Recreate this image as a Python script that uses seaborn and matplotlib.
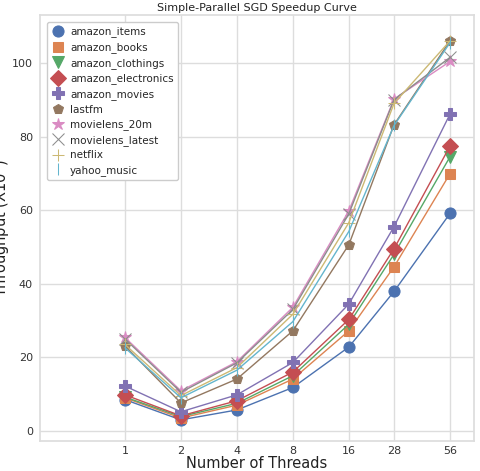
import numpy as np
import pandas as pd
import matplotlib
matplotlib.use('Agg')
import matplotlib.pyplot as plt
import seaborn as sns

threads = [1, 2, 4, 8, 16, 28, 56]
names = ['amazon_items', 'amazon_books', 'amazon_clothings', 'amazon_electronics',
         'amazon_movies', 'lastfm', 'movielens_20m', 'movielens_latest',
         'netflix', 'yahoo_music']

amazon_items = [8.5, 3.0, 5.7, 11.8, 22.8, 37.9, 59.1]
amazon_books = [9.0, 3.5, 7.0, 14.1, 27.2, 44.6, 69.9]
amazon_clothings = [9.2, 3.9, 7.5, 15.0, 29.0, 48.0, 74.5]
amazon_electronics = [9.8, 4.1, 8.2, 16.0, 30.3, 49.5, 77.4]
amazon_movies = [12.2, 5.2, 9.8, 18.6, 34.5, 55.5, 86.1]
lastfm = [23.1, 7.6, 14.1, 27.2, 50.6, 83.2, 106.0]
movielens_20m = [25.4, 10.9, 18.8, 33.6, 59.8, 90.2, 100.4]
movielens_latest = [25.0, 10.5, 18.5, 33.0, 59.0, 90.0, 101.5]
netflix = [23.5, 9.6, 17.2, 31.7, 56.6, 89.0, 106.0]
yahoo_music = [22.6, 9.0, 16.5, 29.7, 54.2, 83.0, 105.5]

series = [amazon_items, amazon_books, amazon_clothings, amazon_electronics,
          amazon_movies, lastfm, movielens_20m, movielens_latest, netflix, yahoo_music]

sns.set_theme(style='whitegrid', palette='deep')
plt.rcParams['axes.edgecolor'] = '#dddddd'
plt.rcParams['grid.color'] = '#dddddd'

markers = ['o', 's', 'v', 'D', 'P', 'p', '*', 'x', '+', '|']
msizes = [8, 7.5, 8, 8, 9, 7, 9, 8, 8, 8]
colors = sns.color_palette('deep', 10)

fig = plt.figure(figsize=(4.8, 4.71), dpi=100)
ax = fig.add_axes([0.083, 0.064, 0.905, 0.904])

for i, name in enumerate(names):
    df = pd.DataFrame({'threads': threads, 'tp': series[i]})
    sns.lineplot(data=df, x='threads', y='tp', ax=ax, color=colors[i],
                 marker=markers[i], markersize=msizes[i], linewidth=1,
                 markeredgecolor=colors[i], label=name)

ax.set_xscale('log', base=2)
ax.set_xticks(threads)
ax.set_xticklabels([str(t) for t in threads])
ax.minorticks_off()
ax.set_xlim(2 ** -1.52, 2 ** 6.24)
ax.set_ylim(-2.7, 113)
ax.set_yticks([0, 20, 40, 60, 80, 100])
ax.tick_params(labelsize=8, colors='#333333', length=0)
ax.tick_params(axis='x', pad=4)
ax.tick_params(axis='y', pad=5)
ax.set_xlabel('Number of Threads', fontsize=10.5, color='#222222', labelpad=0)
ax.set_ylabel('Throughput (X10$^6$)', fontsize=10.5, color='#222222')
ax.yaxis.set_label_coords(-0.064, 0.5)
ax.set_title('Simple-Parallel SGD Speedup Curve', fontsize=8, color='#222222', pad=3)

leg = ax.legend(loc='upper left', fontsize=7.5, frameon=True, framealpha=1,
                borderpad=0.4, labelspacing=0.45, handletextpad=0.6,
                handlelength=1.2, bbox_to_anchor=(0.005, 0.995))
for h in leg.legend_handles:
    h.set_linestyle('')

fig.savefig('out.png', dpi=100)
